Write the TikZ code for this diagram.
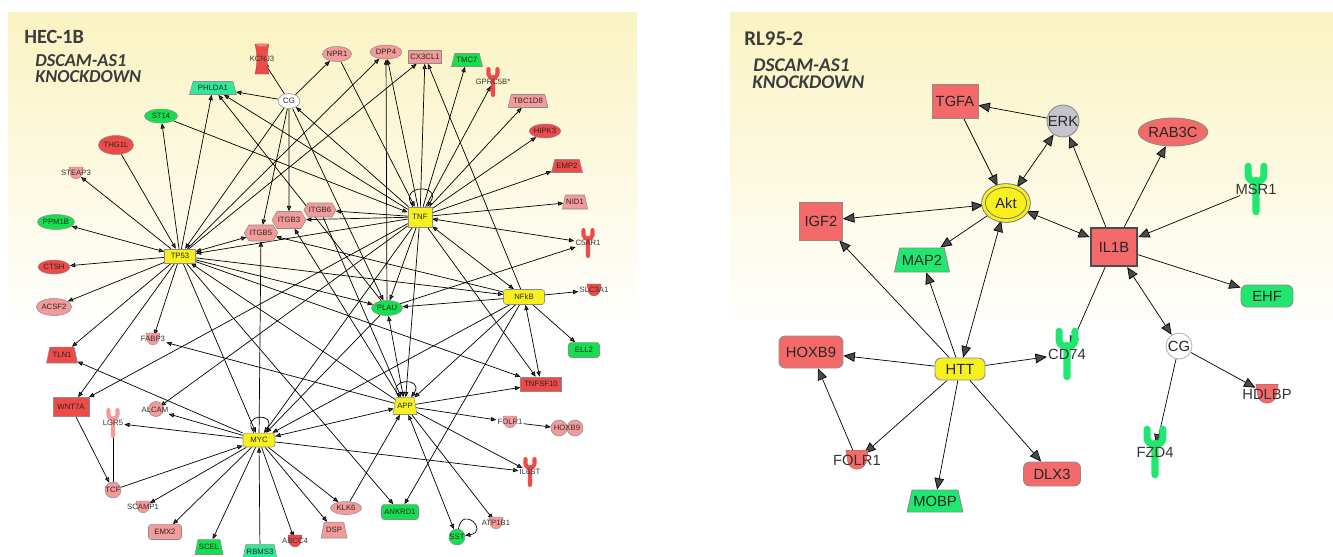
\documentclass[tikz,border=0pt]{standalone}
\usepackage{fontspec}
\setmainfont{Liberation Sans}
\newfontfamily\titlefont{Carlito}
\usepackage{tikz}
\usetikzlibrary{shapes.geometric,shapes.symbols,arrows.meta,backgrounds}

\definecolor{lpink}{HTML}{F59A9A}
\definecolor{lred}{HTML}{EE4A4A}
\definecolor{lgreen}{HTML}{14E04E}
\definecolor{lmint}{HTML}{30E89A}
\definecolor{ipayel}{HTML}{F7F01E}
\definecolor{rsalmon}{HTML}{F46A6A}
\definecolor{rgreen}{HTML}{1EE870}
\definecolor{erkgray}{HTML}{C4C4CC}
\definecolor{bgtop}{HTML}{FAF3C2}
\definecolor{bgmid}{HTML}{F8FBE6}
\definecolor{titlegray}{HTML}{3C3C3C}
\definecolor{edgegray}{HTML}{4A4A4A}

\newcommand{\lfont}{\fontsize{4.4}{5}\selectfont}
\newcommand{\rfont}{\fontsize{8.4}{10}\selectfont}

% transporter (cup) and receptor (Y) glyphs with a named label on top
\newcommand{\cupnode}[7]{%
  \begin{scope}[shift={(#2,#3)}, scale=#6]
    \fill[#4, draw=#4!75!black, line width=0.2pt] (-7,-6) -- (7,-6) -- (6,-1)
      .. controls (6,8) and (-6,8) .. (-6,-1) -- cycle;
  \end{scope}
  \node[#7] (#1) at (#2,#3) {#5};
}
\newcommand{\recnode}[7]{%
  \begin{scope}[shift={(#2,#3)}, scale=#6]
    \draw[#4, line width=#6*2.3pt, line cap=round, line join=round]
      (-4.5,-13) -- (-4.5,-8) .. controls (-4.5,-3) and (4.5,-3) .. (4.5,-8) -- (4.5,-13)
      (0,-5) -- (0,13);
  \end{scope}
  \node[#7] (#1) at (#2,#3) {#5};
}

\tikzset{
  sz/.style 2 args={minimum width=#1*0.569pt, minimum height=#2*0.569pt},
  gene/.style={draw=black!45, line width=0.3pt, inner sep=0.5pt, text=black!85},
  lg/.style={gene, font=\lfont},
  rg/.style={gene, font=\rfont, line width=0.5pt},
  box/.style={rectangle},
  rbox/.style={rectangle, rounded corners=1.5pt},
  ell/.style={ellipse, inner sep=0pt},
  trap/.style={trapezium, trapezium left angle=68, trapezium right angle=68, trapezium stretches=true},
  hexa/.style={signal, signal to=east and west, signal pointer angle=120},
  circ/.style={circle, inner sep=0pt},
  txt/.style={inner sep=0.5pt, text=black!80},
  ltxt/.style={txt, font=\lfont},
  rtxt/.style={txt, font=\rfont},
  ttl/.style={anchor=west, inner sep=0pt, text=titlegray},
  ledge/.style={draw=edgegray, line width=0.35pt, >={Triangle[length=3pt, width=2.4pt]}},
  redge/.style={draw=edgegray, line width=0.9pt, >={Triangle[length=6.5pt, width=5.5pt]}},
}

\begin{document}
\begin{tikzpicture}[x=0.02cm, y=-0.02cm]
  \useasboundingbox (0,0) rectangle (1333,556);
  \begin{scope}[on background layer]
    \shade[top color=bgtop, middle color=bgmid, bottom color=white] (8,12) rectangle (637,330);
    \shade[top color=bgtop, middle color=bgmid, bottom color=white] (730,12) rectangle (1333,335);
  \end{scope}

  % ---------------- HEC-1B ----------------
  \node[ttl, font=\titlefont\fontsize{11.5}{12}\selectfont\bfseries] (hTitle) at (24,37) {HEC-1B};
  \node[ttl, font=\titlefont\fontsize{10.4}{11}\selectfont\bfseries\itshape] (hSub) at (35,61) {DSCAM-AS1};
  \node[ttl, font=\titlefont\fontsize{10.4}{11}\selectfont\bfseries\itshape] (hKd) at (35,77) {KNOCKDOWN};

  \node[lg,box,fill=ipayel,sz={31}{14}] (hTP53) at (180,256) {TP53};
  \node[lg,box,fill=ipayel,sz={24}{20}] (hTNF) at (420,217) {TNF};
  \node[lg,rbox,fill=ipayel,sz={32}{14}] (hMYC) at (259,440) {MYC};
  \node[lg,trap,fill=ipayel,sz={24}{17}] (hAPP) at (405,406) {APP};
  \node[lg,rbox,fill=ipayel,sz={41}{15}] (hNFkB) at (524,297) {NFkB};
  \node[lg,ell,fill=lgreen,sz={31}{15}] (hPLAU) at (387,308) {PLAU};
  \node[lg,ell,fill=white,sz={22}{15}] (hCG) at (289,101) {CG};
  \node[lg,trap,fill=lmint,sz={47}{13}] (hPHLDA1) at (213,88) {PHLDA1};
  \node[lg,ell,fill=lgreen,sz={33}{14}] (hST14) at (161,116) {ST14};
  \node[lg,ell,fill=lred,sz={28}{19}] (hTHG1L) at (116,145) {THG1L};
  \cupnode{hSTEAP3}{76}{173}{lpink}{STEAP3}{1}{ltxt}
  \node[lg,ell,fill=lgreen,sz={32}{15}] (hPPM1B) at (56,222) {PPM1B};
  \node[lg,ell,fill=lred,sz={32}{14}] (hCTSH) at (54,267) {CTSH};
  \node[lg,ell,fill=lpink,sz={33}{17}] (hACSF2) at (54,307) {ACSF2};
  \cupnode{hFABP3}{153}{339}{lpink}{FABP3}{1}{ltxt}
  \node[lg,trap,fill=lred,sz={31}{16}] (hTLN1) at (62,355) {TLN1};
  \node[lg,box,fill=lred,sz={36}{19}] (hWNT7A) at (71,407) {WNT7A};
  \recnode{hLGR5}{113}{423}{lpink}{LGR5}{1}{ltxt}
  \node[lg,circ,fill=lpink,sz={15}{15}] (hALCAMc) at (156,409) {};
  \node[ltxt] (hALCAM) at (155,410) {ALCAM};
  \node[lg,circ,fill=lpink,sz={16}{16}] (hTCF) at (113,490) {TCF};
  \cupnode{hSCAMP1}{143}{507}{lpink}{SCAMP1}{1}{ltxt}
  \node[lg,rbox,fill=lpink,sz={33}{15}] (hEMX2) at (165,532) {EMX2};
  \node[lg,trap,fill=lgreen,sz={28}{15}] (hSCEL) at (209,547) {SCEL};
  \node[lg,trap,fill=lmint,sz={34}{15}] (hRBMS3) at (260,552) {RBMS3};
  \cupnode{hABCC4}{295}{541}{lred}{ABCC4}{1}{ltxt}
  \node[lg,trap,fill=lpink,sz={26}{16}] (hDSP) at (334,530) {DSP};
  \node[lg,ell,fill=lpink,sz={31}{13}] (hKLK6) at (346,508) {KLK6};
  \node[lg,rbox,fill=lgreen,sz={37}{15}] (hANKRD1) at (400,512) {ANKRD1};
  \node[lg,circ,fill=lgreen,sz={16}{16}] (hSST) at (457,537) {SST};
  \cupnode{hATP1B1}{496}{523}{lpink}{ATP1B1}{1}{ltxt}
  \recnode{hIL6ST}{530}{472}{lred}{IL6ST}{1}{ltxt}
  \cupnode{hFOLR1}{510}{422}{lpink}{FOLR1}{1}{ltxt}
  \node[lg,circ,fill=lpink,sz={16}{16}] (hHOXB9a) at (559,428) {};
  \node[lg,circ,fill=lpink,sz={16}{16}] (hHOXB9b) at (575,428) {};
  \node[ltxt] (hHOXB9) at (567,428) {HOXB9};
  \node[lg,box,fill=lred,sz={41}{14}] (hTNFSF10) at (541,384) {TNFSF10};
  \node[lg,rbox,fill=lgreen,sz={31}{15}] (hELL2) at (584,350) {ELL2};
  \cupnode{hSLC3A1}{594}{290}{lred}{SLC3A1}{1}{ltxt}
  \recnode{hC5AR1}{588}{243}{lred}{C5AR1}{1}{ltxt}
  \node[lg,trap,fill=lpink,sz={24}{14}] (hNID1) at (575,202) {NID1};
  \node[lg,trap,fill=lred,sz={31}{13}] (hEMP2) at (567,166) {EMP2};
  \node[lg,ell,fill=lred,sz={30}{14}] (hHIPK3) at (545,131) {HIPK3};
  \node[lg,trap,fill=lpink,sz={40}{13}] (hTBC1D8) at (528,101) {TBC1D8};
  \recnode{hGPRC5B}{493}{82}{lred}{GPRC5B*}{1}{ltxt}
  \node[lg,trap,fill=lgreen,sz={31}{13}] (hTMC7) at (467,60) {TMC7};
  \node[lg,box,fill=lpink,sz={33}{13}] (hCX3CL1) at (425,57) {CX3CL1};
  \node[lg,ell,fill=lpink,sz={32}{14}] (hDPP4) at (386,52) {DPP4};
  \node[lg,ell,fill=lpink,sz={29}{15}] (hNPR1) at (337,54) {NPR1};
  \fill[lred, draw=lred!75!black, line width=0.2pt] (255,44) -- (269,44)
    .. controls (266.5,54) and (266.5,64) .. (269,74) -- (255,74)
    .. controls (257.5,64) and (257.5,54) .. (255,44) -- cycle;
  \fill[lred!70!white] (262,45) ellipse (6 and 1.5);
  \node[ltxt] (hKCNJ3) at (262,59) {KCNJ3};
  \node[lg,hexa,fill=lpink,sz={30}{14}] (hITGB6) at (320,210) {ITGB6};
  \node[lg,hexa,fill=lpink,sz={33}{17}] (hITGB3) at (289,220) {ITGB3};
  \node[lg,hexa,fill=lpink,sz={33}{16}] (hITGB5) at (261,233) {ITGB5};

  \begin{scope}[on background layer, ledge]
    \foreach \a/\b in {hTP53/hSTEAP3, hTP53/hST14, hTP53/hPHLDA1, hTP53/hCTSH, hTP53/hACSF2,
        hTP53/hTLN1, hTP53/hFABP3, hTP53/hWNT7A, hTP53/hDPP4, hTP53/hCX3CL1, hTP53/hPLAU,
        hTP53/hNFkB, hTP53/hTNFSF10, hTP53/hANKRD1, hTP53/hMYC,
        hTHG1L/hTP53, hCG/hTP53, hTNF/hTP53, hAPP/hTP53, hNPR1/hTNF, hST14/hTNF,
        hTNF/hDPP4, hTNF/hCX3CL1, hTNF/hTMC7, hTNF/hGPRC5B, hTNF/hTBC1D8, hTNF/hHIPK3,
        hTNF/hEMP2, hTNF/hNID1, hTNF/hITGB6, hTNF/hITGB3, hTNF/hPHLDA1, hTNF/hCG, hTNF/hPLAU,
        hTNF/hAPP, hTNF/hMYC, hTNF/hTNFSF10, hTNF/hWNT7A, hTNF/hALCAM,
        hCG/hKCNJ3, hCG/hNPR1, hCG/hPHLDA1, hCG/hITGB5, hCG/hITGB3, hCG/hPLAU,
        hPLAU/hDPP4, hPLAU/hPHLDA1, hPLAU/hC5AR1, hPLAU/hMYC,
        hNFkB/hCX3CL1, hNFkB/hSLC3A1, hNFkB/hELL2, hNFkB/hPLAU, hNFkB/hMYC, hNFkB/hAPP,
        hNFkB/hANKRD1, hNFkB/hITGB5,
        hAPP/hTNFSF10, hAPP/hFOLR1, hAPP/hIL6ST, hAPP/hATP1B1, hAPP/hFABP3, hAPP/hITGB3,
        hKLK6/hAPP, hITGB6/hAPP, hFOLR1/hHOXB9a,
        hMYC/hALCAM, hMYC/hLGR5, hMYC/hSCAMP1, hMYC/hEMX2, hMYC/hSCEL, hMYC/hABCC4,
        hMYC/hDSP, hMYC/hKLK6, hMYC/hTLN1, hMYC/hIL6ST, hMYC/hITGB5,
        hTCF/hMYC, hRBMS3/hMYC, hWNT7A/hTCF, hTCF/hLGR5}
      \draw[->] (\a) -- (\b);
    \foreach \a/\b in {hTP53/hPPM1B, hTP53/hITGB5, hTNF/hC5AR1, hTNF/hNFkB,
        hNFkB/hTNFSF10, hAPP/hSST, hAPP/hMYC, hAPP/hPLAU}
      \draw[<->] (\a) -- (\b);
    \draw[->] (hTNF) edge[loop, out=125, in=55, min distance=16pt] (hTNF);
    \draw[->] (hAPP) edge[loop, out=125, in=55, min distance=14pt] (hAPP);
    \draw[->] (hMYC) edge[loop, out=125, in=55, min distance=14pt] (hMYC);
    \draw[->] (hSST) edge[loop, out=80, in=10, min distance=14pt] (hSST);
  \end{scope}

  % ---------------- RL95-2 ----------------
  \node[ttl, font=\titlefont\fontsize{11.9}{12}\selectfont\bfseries] (rTitle) at (744,39) {RL95-2};
  \node[ttl, font=\titlefont\fontsize{11}{12}\selectfont\bfseries\itshape] (rSub) at (753,65) {DSCAM-AS1};
  \node[ttl, font=\titlefont\fontsize{11}{12}\selectfont\bfseries\itshape] (rKd) at (752,82) {KNOCKDOWN};

  \node[rg,box,fill=rsalmon,sz={46}{34}] (rTGFA) at (955,101) {TGFA};
  \node[rg,circ,fill=erkgray,sz={27}{27}] (rERK) at (1063,121) {ERK};
  \node[rg,ell,fill=rsalmon,sz={60}{28}] (rRAB3C) at (1173,132) {RAB3C};
  \recnode{rMSR1}{1256}{189}{rgreen}{MSR1}{1.75}{rtxt}
  \node[rg,ell,fill=ipayel,draw=black!55,double=ipayel,double distance=1.6pt,sz={45}{35}] (rAkt) at (1006,203) {Akt};
  \node[rg,box,fill=rsalmon,sz={43}{38}] (rIGF2) at (821,221) {IGF2};
  \node[rg,box,fill=rsalmon,draw=black!70,line width=1.3pt,sz={46}{38}] (rIL1B) at (1114,247) {IL1B};
  \node[rg,trap,fill=rgreen,sz={55}{24}] (rMAP2) at (922,260) {MAP2};
  \node[rg,rbox,rounded corners=3.5pt,fill=rgreen,sz={52}{22}] (rEHF) at (1267,296) {EHF};
  \recnode{rCD74}{1067}{354}{rgreen}{CD74}{1.75}{rtxt}
  \node[rg,circ,fill=white,draw=black!30,sz={26}{26}] (rCG) at (1179,346) {CG};
  \node[rg,rbox,rounded corners=3.5pt,fill=rsalmon,sz={64}{32}] (rHOXB9) at (811,352) {HOXB9};
  \node[rg,rbox,rounded corners=3.5pt,fill=ipayel,sz={50}{22}] (rHTT) at (960,369) {HTT};
  \cupnode{rHDLBP}{1267}{394}{rsalmon}{HDLBP}{1.6}{rtxt}
  \cupnode{rFOLR1}{857}{460}{rsalmon}{FOLR1}{1.6}{rtxt}
  \recnode{rFZD4}{1155}{452}{rgreen}{FZD4}{1.75}{rtxt}
  \node[rg,rbox,rounded corners=3.5pt,fill=rsalmon,sz={57}{24}] (rDLX3) at (1052,474) {DLX3};
  \node[rg,trap,fill=rgreen,sz={56}{22}] (rMOBP) at (935,501) {MOBP};

  \begin{scope}[on background layer, redge]
    \foreach \a/\b in {rTGFA/rAkt, rERK/rTGFA, rIL1B/rERK, rIL1B/rRAB3C, rMSR1/rIL1B,
        rAkt/rMAP2, rHTT/rIGF2, rHTT/rMAP2, rHTT/rHOXB9, rHTT/rFOLR1, rHTT/rMOBP,
        rHTT/rDLX3, rHTT/rCD74, rFOLR1/rHOXB9, rIL1B/rCD74, rIL1B/rEHF, rCG/rFZD4, rCG/rHDLBP}
      \draw[->] (\a) -- (\b);
    \foreach \a/\b in {rAkt/rERK, rAkt/rIL1B, rIGF2/rAkt, rHTT/rAkt, rIL1B/rCG}
      \draw[<->] (\a) -- (\b);
  \end{scope}
\end{tikzpicture}
\end{document}
